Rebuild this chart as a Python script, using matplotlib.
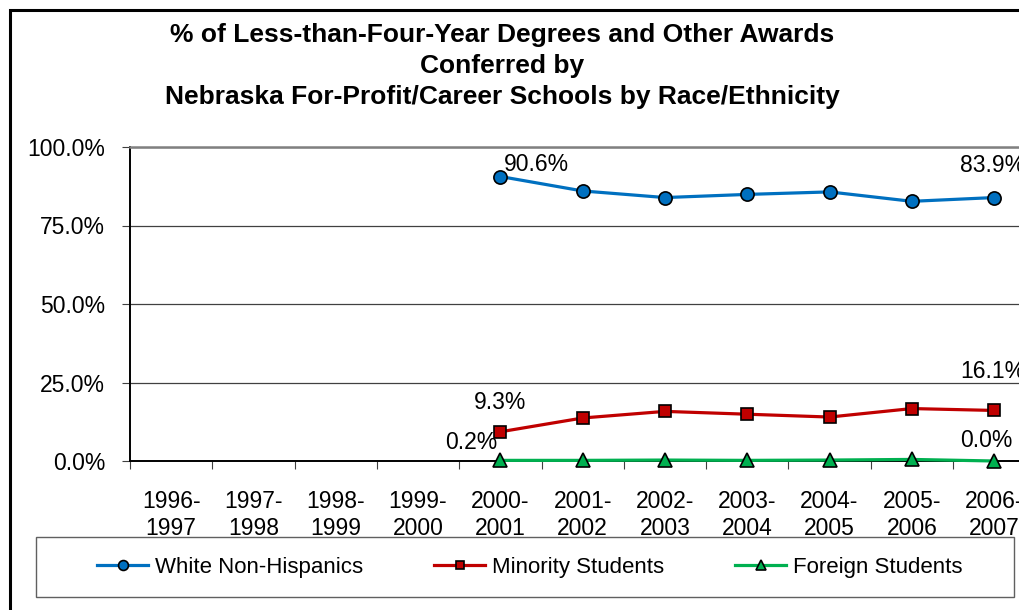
import matplotlib
matplotlib.use("Agg")
from matplotlib import pyplot as plt
from matplotlib.patches import Rectangle
import numpy as np

# データ
years = ["1996-\n1997", "1997-\n1998", "1998-\n1999", "1999-\n2000", "2000-\n2001",
         "2001-\n2002", "2002-\n2003", "2003-\n2004", "2004-\n2005", "2005-\n2006",
         "2006-\n2007"]
white = [None, None, None, None, 90.6, 86.0, 83.9, 84.9, 85.7, 82.7, 83.9]
minority = [None, None, None, None, 9.3, 13.7, 15.8, 14.9, 14.0, 16.7, 16.1]
foreign = [None, None, None, None, 0.2, 0.2, 0.3, 0.2, 0.3, 0.5, 0.0]
title_lines = ["% of Less-than-Four-Year Degrees and Other Awards",
               "Conferred by",
               "Nebraska For-Profit/Career Schools by Race/Ethnicity"]
yticks = [0, 25, 50, 75, 100]

plt.rcParams['font.family'] = ['Liberation Sans', 'DejaVu Sans']

W, H = 1019, 610
fig = plt.figure(figsize=(W / 100, H / 100), dpi=100)

# 外枠
fig.patches.append(Rectangle((9.5 / W, -0.2), 1.2, 1.2 - 9.5 / H,
                             transform=fig.transFigure, fill=False,
                             edgecolor='black', linewidth=2.2))

# タイトル
title_y = [35, 66, 97]
for t, yy in zip(title_lines, title_y):
  fig.text(502 / W, 1 - yy / H, t, ha='center', va='center',
           fontsize=19, fontweight='bold')

ax = fig.add_axes([130 / W, (H - 461) / H, 11 * 82.3 / W, 314 / H])
x = np.arange(len(years))

def to_arr(v):
  return np.array([np.nan if a is None else a for a in v], dtype=float)

w = to_arr(white)
m = to_arr(minority)
f = to_arr(foreign)

ax.plot(x, w, color='#0070C0', lw=2.3, marker='o', ms=9.5, mfc='#0070C0',
        mec='black', mew=1.2, label='White Non-Hispanics', zorder=5, clip_on=False)
ax.plot(x, m, color='#C00000', lw=2.3, marker='s', ms=8, mfc='#C00000',
        mec='black', mew=1.2, label='Minority Students', zorder=5, clip_on=False)
ax.plot(x, f, color='#00B050', lw=2.3, marker='^', ms=9.5, mfc='#00B050',
        mec='black', mew=1.2, label='Foreign Students', zorder=6, clip_on=False)

ax.set_xlim(-0.5, len(years) - 0.5)
ax.set_ylim(0, 100)
ax.set_yticks(yticks)
ax.set_yticklabels(["%.1f%%" % v for v in yticks])
ax.grid(axis='y', color='#404040', lw=0.9)
ax.set_axisbelow(True)

# 目盛り: 境界に主目盛、中央に副目盛ラベル
ax.set_xticks(np.arange(-0.5, len(years), 1.0))
ax.set_xticklabels([])
ax.set_xticks(x, minor=True)
ax.set_xticklabels(years, minor=True, fontsize=16.5)
ax.tick_params(axis='x', which='major', direction='out', length=6, color='#404040')
ax.tick_params(axis='x', which='minor', length=0, pad=21)
ax.tick_params(axis='y', direction='out', length=6, color='#404040', pad=12,
               labelsize=16.5)

for s in ['left', 'bottom']:
  ax.spines[s].set_color('black')
  ax.spines[s].set_linewidth(1.4)
ax.spines['top'].set_color('#808080')
ax.spines['top'].set_linewidth(1.8)
ax.spines['right'].set_visible(False)

# データラベル
first = 4
last = len(years) - 1
lab = dict(fontsize=16.5, ha='center', va='center', textcoords='offset points',
           annotation_clip=False)
ax.annotate("%.1f%%" % w[first], (x[first], w[first]), xytext=(26, 9), **lab)
ax.annotate("%.1f%%" % w[last], (x[last], w[last]), xytext=(-1, 23), **lab)
ax.annotate("%.1f%%" % m[first], (x[first], m[first]), xytext=(0, 21), **lab)
ax.annotate("%.1f%%" % m[last], (x[last], m[last]), xytext=(-1, 28), **lab)
ax.annotate("%.1f%%" % f[first], (x[first], f[first]), xytext=(-21, 13), **lab)
ax.annotate("%.1f%%" % f[last], (x[last], f[last]), xytext=(-6, 15), **lab)

# 凡例
fig.patches.append(Rectangle((36 / W, (H - 597) / H), 978 / W, 60 / H,
                             transform=fig.transFigure, fill=False,
                             edgecolor='#606060', linewidth=1.0))
fig.legend(loc='center', bbox_to_anchor=(530 / W, (H - 567) / H), ncol=3,
           frameon=False, fontsize=16, handlelength=2.3, handletextpad=0.3,
           columnspacing=3.2, markerscale=0.75)

fig.savefig("out.png", dpi=100)
